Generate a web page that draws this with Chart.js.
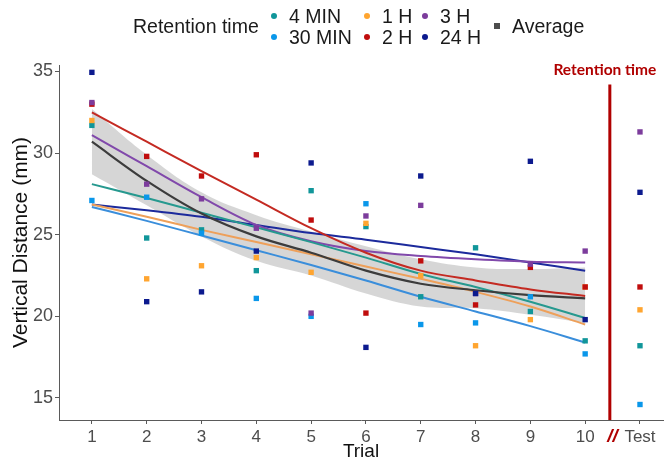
<!DOCTYPE html>
<html>
<head>
<meta charset="utf-8">
<script src="https://cdn.jsdelivr.net/npm/chart.js@4.4.0/dist/chart.umd.min.js"></script>
<style>
  body { margin: 0; background: #fff; }
  #wrap { position: relative; width: 672px; height: 460px; font-family: "Liberation Sans", Arial, sans-serif; }
  #legend { position: absolute; left: 0; top: 0; width: 672px; height: 50px; font-size: 19.5px; color: #1a1a1a; }
  .lg { position: absolute; white-space: nowrap; line-height: 20px; }
  .dot { position: absolute; width: 6px; height: 6px; border-radius: 3px; }
  .sq { position: absolute; width: 6px; height: 6px; }
</style>
</head>
<body>
<div id="wrap">
  <canvas id="myChart" width="672" height="460"></canvas>
  <div id="legend"></div>
</div>
<script>
// x positions and tick labels
var trials = [1, 2, 3, 4, 5, 6, 7, 8, 9, 10];
var testPos = 11;
var tickLabels = ['1', '2', '3', '4', '5', '6', '7', '8', '9', '10', 'Test'];
var yTicks = [15, 20, 25, 30, 35];

var groups = ['4 MIN', '30 MIN', '1 H', '2 H', '3 H', '24 H'];
var pointColors = ['#11969a', '#0a97ea', '#ffa530', '#c00d0d', '#7c3c9c', '#0c1a8e'];
var lineColors = ['#26998f', '#3a8edb', '#eea05a', '#c42a22', '#8149ab', '#1c2a9c'];

// measured points: trials 1-10 then Test
var pts4min = [31.7, 24.8, 25.3, 22.8, 27.7, 25.5, 21.2, 24.2, 20.3, 18.5, 18.2];
var pts30min = [27.1, 27.3, 25.1, 21.1, 20.0, 26.9, 19.5, 19.6, 21.2, 17.7, 14.6];
var pts1h = [32.0, 22.3, 23.1, 23.6, 22.7, 25.7, 22.5, 18.2, 19.8, 21.8, 20.4];
var pts2h = [33.0, 29.8, 28.6, 29.9, 25.9, 20.2, 23.4, 20.7, 23.0, 21.8, 21.8];
var pts3h = [33.1, 28.1, 27.2, 25.4, 20.2, 26.15, 26.8, 21.4, 23.2, 24.0, 31.3];
var pts24h = [34.95, 20.9, 21.5, 24.0, 29.4, 18.1, 28.6, 21.4, 29.5, 19.8, 27.6];

// smoothed fits over trials 1-10
var fit4min = [28.1, 27.25, 26.35, 25.45, 24.55, 23.6, 22.6, 21.8, 20.9, 19.9];
var fit30min = [26.7, 25.85, 24.95, 24.05, 23.15, 22.2, 21.2, 20.3, 19.4, 18.4];
var fit1h = [26.85, 26.1, 25.3, 24.55, 23.8, 23.05, 22.3, 21.5, 20.6, 19.5];
var fit2h = [32.5, 30.7, 28.9, 27.15, 25.4, 23.9, 22.8, 22.2, 21.65, 21.25];
var fit3h = [31.1, 29.2, 27.3, 25.6, 24.6, 24.0, 23.7, 23.5, 23.35, 23.3];
var fit24h = [26.85, 26.5, 26.1, 25.6, 25.1, 24.7, 24.25, 23.8, 23.3, 22.8];
var fitAvg = [30.7, 28.3, 26.3, 24.9, 23.9, 22.8, 22.0, 21.6, 21.3, 21.1];
var bandUpper = [32.7, 29.9, 27.6, 26.2, 25.2, 24.3, 23.5, 23.0, 22.9, 23.0];
var bandLower = [28.7, 26.8, 24.9, 23.4, 22.5, 21.4, 20.6, 20.5, 20.1, 19.6];

var retentionX = 10.45;
var retentionTop = 34.2;

var allPts = [pts4min, pts30min, pts1h, pts2h, pts3h, pts24h];
var allFits = [fit4min, fit30min, fit1h, fit2h, fit3h, fit24h];

function toXY(vals) {
  return vals.map(function (v, i) { return { x: i < trials.length ? trials[i] : testPos, y: v }; });
}

var datasets = [];
datasets.push({ data: toXY(bandUpper), borderWidth: 0, pointRadius: 0, fill: false, tension: 0.4, order: 20 });
datasets.push({ data: toXY(bandLower), borderWidth: 0, pointRadius: 0, fill: '-1', backgroundColor: 'rgba(204,204,204,0.8)', tension: 0.4, order: 20 });
for (var i = 0; i < groups.length; i++) {
  datasets.push({
    label: groups[i] + ' fit', data: toXY(allFits[i]), borderColor: lineColors[i], borderWidth: 2,
    pointRadius: 0, fill: false, cubicInterpolationMode: 'monotone', order: 10
  });
}
datasets.push({ label: 'Average', data: toXY(fitAvg), borderColor: '#3c3c3c', borderWidth: 2.2, pointRadius: 0, fill: false, cubicInterpolationMode: 'monotone', order: 9 });
for (var j = 0; j < groups.length; j++) {
  datasets.push({
    label: groups[j], data: toXY(allPts[j]), showLine: false, pointStyle: 'rect', pointRadius: 3.8,
    pointBackgroundColor: pointColors[j], pointBorderWidth: 0, order: 6 - j
  });
}

// vertical "Retention time" marker drawn through the scales
var extras = {
  id: 'extras',
  afterDatasetsDraw: function (chart) {
    var ctx = chart.ctx, xs = chart.scales.x, ys = chart.scales.y;
    var px = xs.getPixelForValue(retentionX);
    ctx.save();
    ctx.strokeStyle = '#b00000';
    ctx.lineWidth = 3;
    ctx.beginPath();
    ctx.moveTo(px, ys.getPixelForValue(retentionTop));
    ctx.lineTo(px, ys.bottom);
    ctx.stroke();
    ctx.fillStyle = '#b00000';
    ctx.font = 'bold 15.5px Lato';
    ctx.textAlign = 'center';
    ctx.textBaseline = 'middle';
    ctx.fillText('Retention time', px - 5, 70);
    ctx.font = 'italic bold 19px "Liberation Sans"';
    ctx.fillText('//', xs.getPixelForValue(10.5), ys.bottom + 17);
    ctx.restore();
  }
};

var ctx = document.getElementById('myChart').getContext('2d');
var chart = new Chart(ctx, {
  type: 'line',
  data: { datasets: datasets },
  plugins: [extras],
  options: {
    responsive: false,
    animation: false,
    layout: { padding: { top: 65, right: 9, left: 0, bottom: 0 } },
    plugins: { legend: { display: false }, tooltip: { enabled: false } },
    scales: {
      x: {
        type: 'linear', min: 0.4, max: 11.42,
        afterBuildTicks: function (s) { s.ticks = trials.concat([testPos]).map(function (v) { return { value: v }; }); },
        afterFit: function (s) { s.height = 40; },
        ticks: {
          color: '#4d4d4d', font: { family: 'Liberation Sans', size: 17 }, padding: 3, maxRotation: 0,
          callback: function (v) { return tickLabels[v - 1]; }
        },
        grid: { drawOnChartArea: false, drawTicks: true, tickLength: 4, color: '#5a5a5a' },
        border: { display: true, color: '#5a5a5a', width: 1 },
        title: { display: true, text: 'Trial', color: '#111', font: { family: 'Liberation Sans', size: 19, lineHeight: 0.9 }, padding: { top: 0, bottom: 0 } }
      },
      y: {
        min: 13.65, max: 35.4,
        afterBuildTicks: function (s) { s.ticks = yTicks.map(function (v) { return { value: v }; }); },
        afterFit: function (s) { s.width = 59; },
        ticks: { color: '#4d4d4d', font: { family: 'Liberation Sans', size: 18 }, padding: 2 },
        grid: { drawOnChartArea: false, drawTicks: true, tickLength: 4, color: '#5a5a5a' },
        border: { display: true, color: '#5a5a5a', width: 1 },
        title: { display: true, text: 'Vertical Distance (mm)', color: '#111', font: { family: 'Liberation Sans', size: 21 }, padding: { top: 9, bottom: 0 } }
      }
    }
  }
});

// legend drawn as html on top
var legend = document.getElementById('legend');
function addText(txt, left, top) {
  var d = document.createElement('div');
  d.className = 'lg'; d.textContent = txt; d.style.left = left + 'px'; d.style.top = top + 'px';
  legend.appendChild(d);
}
function addMark(cls, color, left, top) {
  var d = document.createElement('div');
  d.className = cls; d.style.background = color; d.style.left = left + 'px'; d.style.top = top + 'px';
  legend.appendChild(d);
}
addText('Retention time', 133, 16);
var colLeft = [289, 382, 440];
var dotLeft = [271, 364, 422];
var rowTop = [6, 27];
for (var k = 0; k < groups.length; k++) {
  var col = Math.floor(k / 2), row = k % 2;
  addText(groups[k], colLeft[col], rowTop[row]);
  addMark('dot', pointColors[k], dotLeft[col], rowTop[row] + 7);
}
addMark('sq', '#4d4d4d', 494, 23);
addText('Average', 512, 16);
</script>
</body>
</html>
